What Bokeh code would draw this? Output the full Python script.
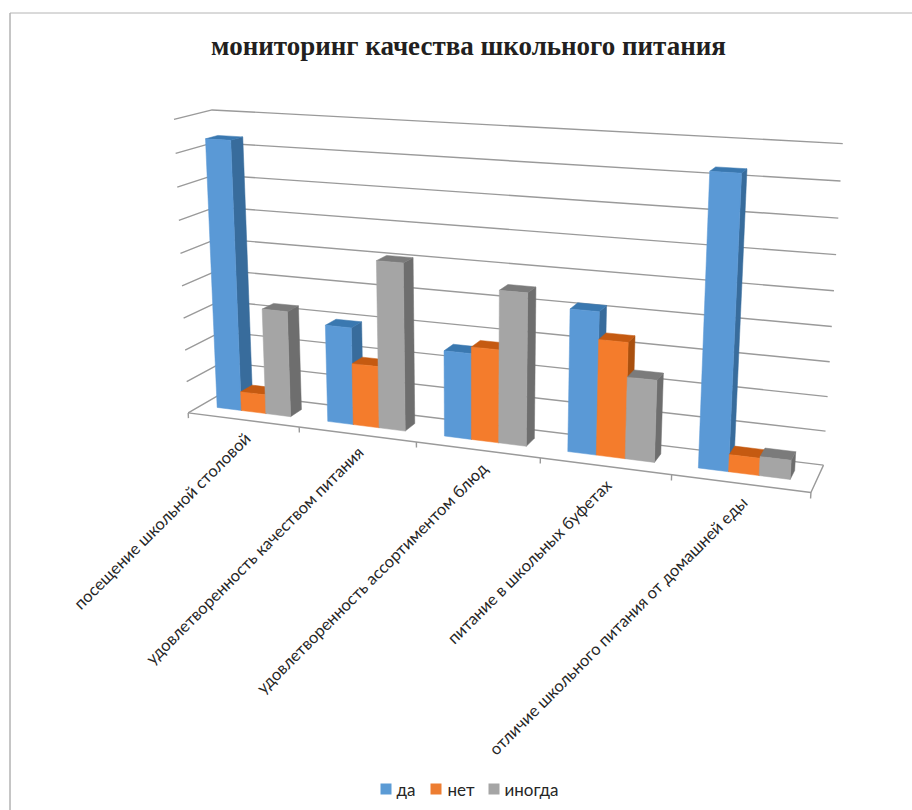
import numpy as np
from bokeh.plotting import figure
from bokeh.embed import file_html
from bokeh.resources import INLINE
from bokeh.core.properties import value
from bokeh.models import Range1d

title = "мониторинг качества школьного питания"
categories = ["посещение школьной столовой", "удовлетворенность качеством питания",
              "удовлетворенность ассортиментом блюд", "питание в школьных буфетах",
              "отличие школьного питания от домашней еды"]
series_names = ["да", "нет", "иногда"]
da = [83.5, 30, 26, 42, 83]
net = [6, 19, 28, 34, 5]
inogda = [33, 51, 45.5, 24, 5.5]
grid_values = list(range(0, 100, 10))

FRONT = ["#5A99D6", "#F47C2C", "#A5A5A5"]
LEGEND = ["#5B9BD5", "#ED7D31", "#A5A5A5"]
TOP = ["#3A78B0", "#C55A11", "#7B7B7B"]
SIDE = ["#386C9C", "#A9500F", "#6E6E6E"]
GRID = "#9A9A9A"

# camera calibration: (category position, value, depth) -> screen position
calib = [
    (0, 0, 0, 189, 411), (5, 0, 0, 810, 491), (0, 90, 0, 172, 119),
    (0, 0, 1, 222, 392), (5, 0, 1, 823, 464), (0, 90, 1, 213, 110), (5, 90, 1, 842, 143),
    (1, 0, 0, 299, 427), (2, 0, 0, 416, 442), (3, 0, 0, 540, 458), (4, 0, 0, 671, 476),
    (0, 50, 0, 180, 252), (5, 50, 1, 834, 290),
]
rows = []
for u, v, d, sx, sy in calib:
    X = [u, v / 10, d, 1]
    rows.append(X + [0, 0, 0, 0] + [-sx * c for c in X])
    rows.append([0, 0, 0, 0] + X + [-sy * c for c in X])
P = np.linalg.svd(np.array(rows, float))[2][-1].reshape(3, 4)


def pr(u, v, d):
    h = P @ np.array([u, v / 10, d, 1.0])
    return h[0] / h[2], h[1] / h[2]


def poly(pts):
    s = [pr(*q) for q in pts]
    return [a for a, _ in s], [b for _, b in s]


p = figure(width=912, height=810, output_backend="svg", toolbar_location=None,
           x_range=Range1d(0, 912), y_range=Range1d(810, 0), min_border=0)
p.axis.visible = False
p.grid.visible = False
p.outline_line_color = None
p.background_fill_color = "white"

# outer frame
p.line([9.5, 9.5], [810, 12.5], line_color="#8C8C8C", line_width=1)
p.line([9.5, 912], [12.5, 12.5], line_color="#B4B4B4", line_width=1)

# walls and floor
xs, ys = [], []
for g in grid_values:
    a = [pr(0, g, 0), pr(0, g, 1), pr(5, g, 1)]
    xs.append([q[0] for q in a])
    ys.append([q[1] for q in a])
b = [pr(0, 0, 0), pr(5, 0, 0), pr(5, 0, 1)]
xs.append([q[0] for q in b])
ys.append([q[1] for q in b])
for i in range(6):
    t = [pr(i, 0, 0), pr(i, -1.7, 0)]
    xs.append([q[0] for q in t])
    ys.append([q[1] for q in t])
p.multi_line(xs, ys, line_color=GRID, line_width=1.4)

# bars
U0, U1, D0, D1 = 0.15, 0.82, 0.35, 0.68
w = (U1 - U0) / 3
for c in range(5):
    for s, vals in enumerate([da, net, inogda]):
        v = vals[c]
        a, e = c + U0 + s * w, c + U0 + (s + 1) * w
        top = poly([(a, v, D0), (e, v, D0), (e, v, D1), (a, v, D1)])
        side = poly([(e, 0, D0), (e, v, D0), (e, v, D1), (e, 0, D1)])
        front = poly([(a, 0, D0), (e, 0, D0), (e, v, D0), (a, v, D0)])
        p.patch(*side, fill_color=SIDE[s], line_color=SIDE[s], line_width=0.5)
        p.patch(*top, fill_color=TOP[s], line_color=TOP[s], line_width=0.5)
        p.patch(*front, fill_color=FRONT[s], line_color=FRONT[s], line_width=0.5)

# category labels
lab_x = [247, 360, 484, 608, 744]
lab_y = [435, 449, 465, 482, 499]
p.text(lab_x, lab_y, text=categories, angle=np.pi / 4, text_align="right", text_baseline="middle",
       text_font=value("Lato"), text_font_size="16.5px", text_color="#262626")

# title
p.text([468], [45], text=[title], text_align="center", text_baseline="middle",
       text_font=value("Liberation Serif"), text_font_style="bold", text_font_size="27px", text_color="#231F20")

# legend
leg_sq = [380, 430, 488]
leg_tx = [396, 447, 504]
for i, n in enumerate(series_names):
    p.rect([leg_sq[i] + 5.5], [788.5], width=11, height=11, fill_color=LEGEND[i], line_color=None)
    p.text([leg_tx[i]], [789], text=[n], text_baseline="middle", text_font=value("Lato"),
           text_font_size="17px", text_color="#262626")

open("out.html", "w").write(file_html(p, INLINE))
